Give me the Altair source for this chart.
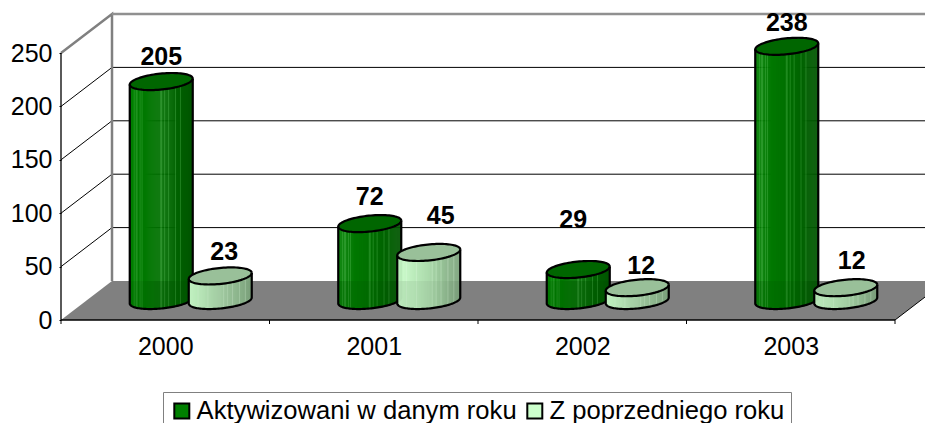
import altair as alt
import numpy as np
import pandas as pd

years = ["2000", "2001", "2002", "2003"]
series = ["Aktywizowani w danym roku", "Z poprzedniego roku"]
aktywizowani = [205, 72, 29, 238]
z_poprzedniego = [23, 45, 12, 12]
y_ticks = [0, 50, 100, 150, 200, 250]

# label nudges of the reference's data labels (px right, px up from top of cylinder)
nudge_x = [[0, 0, -5, 0], [4, 12, 4, 6]]
nudge_up = [[25, 27, 50, 23], [24, 36, 22, 27]]

FONT = "Liberation Sans"
PX_X = 208.5      # px per category slot
PX_Y = 1.068      # px per value unit
W, H = 864, 310
DX = 51 / PX_X    # depth projection, slots
DY = 39 / PX_Y    # depth projection, value units
A = 31.5 / PX_X   # ellipse half width
B = 8.0 / PX_Y    # ellipse half height
K = 3.0 / PX_Y    # ellipse shear
OFF = 29.5 / PX_X # series offset from slot centre
N_STRIPS = 64

xscale = alt.Scale(domain=[0, W / PX_X], nice=False, zero=False)
yscale = alt.Scale(domain=[0, H / PX_Y], nice=False, zero=False)
xaxis = alt.Axis(values=[0.5, 1.5, 2.5, 3.5], title=None, ticks=False, domain=False, grid=False,
                 labelExpr="[" + ",".join(f"'{y}'" for y in years) + "][floor(datum.value)]",
                 labelFont=FONT, labelFontSize=25, labelColor="black", labelPadding=14,
                 labelFlush=False, labelOverlap=False)
yaxis = alt.Axis(values=y_ticks, title=None, ticks=True, tickSize=2, tickColor="black", domain=False,
                 grid=False, labelFont=FONT, labelFontSize=25, labelColor="black", labelPadding=7,
                 format="d", labelFlush=False, labelOverlap=False)
X = alt.X("x:Q", scale=xscale, axis=xaxis)
Y = alt.Y("y:Q", scale=yscale, axis=yaxis)
X2 = alt.X2("x2:Q")
Y2 = alt.Y2("y2:Q")


def hexc(r, g, b):
    return "#%02x%02x%02x" % (int(round(r)), int(round(g)), int(round(b)))


def mix(c1, c2, f):
    return tuple(a + (b - a) * f for a, b in zip(c1, c2))


DARK_STOPS = [(0, 128, 0), (0, 112, 0), (0, 84, 0)]
LIGHT_STOPS = [(204, 255, 204), (172, 218, 172), (122, 160, 122)]
DARK_LINES = [.07, .11, .16, .2, .5, .56, .62, .72, .8]
LIGHT_LINES = [.15, .3, .55, .62, .7, .8, .9]


def strip_color(s, f, below_floor):
    stops = DARK_STOPS if s == 0 else LIGHT_STOPS
    c = mix(stops[0], stops[1], f / .5) if f < .5 else mix(stops[1], stops[2], (f - .5) / .5)
    lines = DARK_LINES if s == 0 else LIGHT_LINES
    if any(abs(f - l) < .009 for l in lines):
        c = mix(c, (90, 190, 90) if s == 0 else (225, 255, 225), .35 if s == 0 else .3)
    if below_floor:
        c = mix(c, (0, 60, 0) if s == 0 else (110, 140, 110), .12)
    return hexc(*c)


vals = [aktywizowani, z_poprzedniego]
layers = []

# floor
floor_x = [0, DX, 4, 4 + DX]
floor = pd.DataFrame({"x": floor_x, "y": [0, DY, DY, DY], "y2": [0, 0, 0, DY]})
layers.append(alt.Chart(floor).mark_area(color="#808080", interpolate="linear").encode(X, Y, Y2))

# back-wall gridlines
grid = pd.DataFrame({"x": DX, "x2": 4 + DX, "y": [v + DY for v in y_ticks[1:5]]})
layers.append(alt.Chart(grid).mark_rule(color="black", strokeWidth=1).encode(X, X2, Y))

# side-wall gridlines
side = pd.DataFrame([{"x": DX * d, "y": v + DY * d, "id": v} for v in y_ticks[1:5] for d in (0, 1)])
layers.append(alt.Chart(side).mark_line(color="black", strokeWidth=1).encode(X, Y, detail="id:N"))

# wall frame (grey)
frame = pd.DataFrame({"x": [0, DX, DX], "y": [250, 250 + DY, DY], "o": [0, 1, 2]})
layers.append(alt.Chart(frame).mark_line(color="#808080", strokeWidth=2.5).encode(X, Y, order="o:Q"))
top = pd.DataFrame({"x": [DX], "x2": [4 + DX], "y": [250 + DY]})
layers.append(alt.Chart(top).mark_rule(color="#909090", strokeWidth=2.5).encode(X, X2, Y))

# front axes
front = pd.DataFrame({"x": [0, 4], "y": [0, 0], "o": [0, 1]})
layers.append(alt.Chart(front).mark_line(color="black", strokeWidth=1.3).encode(X, Y, order="o:Q"))
yline = pd.DataFrame({"x": [0, 0], "y": [0, 250], "o": [0, 1]})
layers.append(alt.Chart(yline).mark_line(color="black", strokeWidth=1.3).encode(X, Y, order="o:Q"))
right = pd.DataFrame({"x": [4, 4 + DX], "y": [0, DY], "o": [0, 1]})
layers.append(alt.Chart(right).mark_line(color="black", strokeWidth=1).encode(X, Y, order="o:Q"))
xticks = pd.DataFrame({"x": range(5), "y": 0, "y2": -4 / PX_Y})
layers.append(alt.Chart(xticks).mark_rule(color="black", strokeWidth=1).encode(X, Y, Y2))

# cylinders
for s in (0, 1):
    strips, tops, outlines = [], [], []
    for i, v in enumerate(vals[s]):
        c = i + .5 + (-OFF if s == 0 else OFF) + DX * .5
        ytop = v + DY * .5
        ybase = DY * .5
        # body strips
        for j in range(N_STRIPS):
            f0, f1 = j / N_STRIPS, (j + 1.5) / N_STRIPS
            xm = (f0 + (j + 1) / N_STRIPS) - 1
            ct = np.clip(xm, -1, 1)
            st = np.sqrt(1 - ct * ct)
            bottom = ybase + K * ct - B * st
            topy = ytop + K * ct
            fl = DY
            mf = (j + .5) / N_STRIPS
            if topy > fl and bottom < fl:
                strips.append({"x": c - A + 2 * A * f0, "x2": c - A + 2 * A * min(f1, 1), "y": fl, "y2": bottom,
                               "c": strip_color(s, mf, True)})
                strips.append({"x": c - A + 2 * A * f0, "x2": c - A + 2 * A * min(f1, 1), "y": topy, "y2": fl,
                               "c": strip_color(s, mf, False)})
            else:
                strips.append({"x": c - A + 2 * A * f0, "x2": c - A + 2 * A * min(f1, 1), "y": topy, "y2": bottom,
                               "c": strip_color(s, mf, bottom < fl)})
        # top ellipse
        for t in np.linspace(0, np.pi, 61):
            tops.append({"x": c + A * np.cos(t), "y": ytop + K * np.cos(t) + B * np.sin(t),
                         "y2": ytop + K * np.cos(t) - B * np.sin(t), "id": i})
        # outlines
        for o, t in enumerate(np.linspace(0, 2 * np.pi, 91)):
            outlines.append({"x": c + A * np.cos(t), "y": ytop + K * np.cos(t) + B * np.sin(t),
                             "id": f"t{i}", "o": o})
        path = [(c - A, ytop - K)]
        for t in np.linspace(np.pi, 2 * np.pi, 61):
            path.append((c + A * np.cos(t), ybase + K * np.cos(t) + B * np.sin(t)))
        path.append((c + A, ytop + K))
        for o, (px, py) in enumerate(path):
            outlines.append({"x": px, "y": py, "id": f"b{i}", "o": o})
    layers.append(alt.Chart(pd.DataFrame(strips)).mark_rect(strokeWidth=0).encode(
        X, X2, Y, Y2, color=alt.Color("c:N", scale=None, legend=None)))
    layers.append(alt.Chart(pd.DataFrame(tops)).mark_area(
        color="#006600" if s == 0 else "#99C099", interpolate="linear").encode(X, Y, Y2, detail="id:N"))
    layers.append(alt.Chart(pd.DataFrame(outlines)).mark_line(color="black", strokeWidth=2.2).encode(
        X, Y, detail="id:N", order="o:Q"))

# data labels + legend carrier
rows = []
for s in (0, 1):
    for i, v in enumerate(vals[s]):
        c = i + .5 + (-OFF if s == 0 else OFF) + DX * .5
        rows.append({"x": c + nudge_x[s][i] / PX_X, "y": v + DY * .5 + nudge_up[s][i] / PX_Y,
                     "label": str(v), "series": series[s]})
labels = pd.DataFrame(rows)
layers.append(alt.Chart(labels).mark_text(font=FONT, fontWeight="bold", fontSize=25, color="black",
                                          baseline="middle", align="center").encode(X, Y, text="label:N"))
layers.append(alt.Chart(labels).mark_square(opacity=0, size=1).encode(
    X, Y,
    color=alt.Color("series:N", scale=alt.Scale(domain=series, range=["#008000", "#CCFFCC"]),
                    legend=alt.Legend(orient="none", legendX=102, legendY=382, title=None, columns=2,
                                      symbolType="square", symbolSize=225, symbolOpacity=1,
                                      symbolStrokeColor="black", symbolStrokeWidth=2,
                                      labelFont=FONT, labelFontSize=25.6, labelColor="black", labelOffset=2,
                                      labelLimit=500, columnPadding=5, padding=6,
                                      strokeColor="#808080", fillColor="white", offset=0)),
))

chart = alt.layer(*layers).resolve_scale(color="independent").properties(
    width=W, height=H, padding={"left": 53, "top": 2, "right": 0, "bottom": 103},
    autosize=alt.AutoSizeParams(type="none"),
).configure_view(stroke=None)

chart.save("out.html", embed_options={"renderer": "svg", "actions": False})
